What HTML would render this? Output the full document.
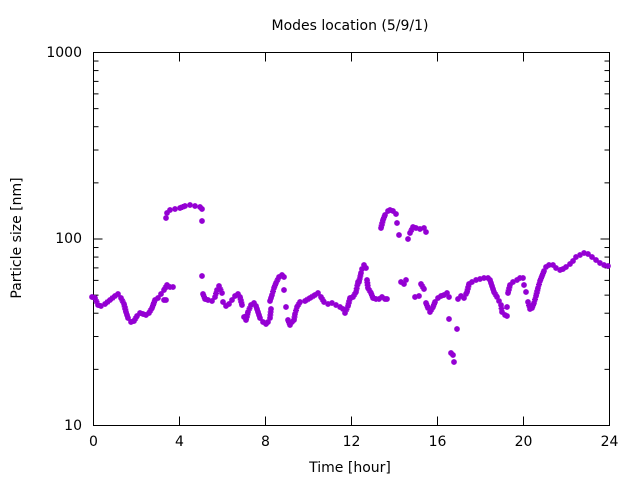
<!DOCTYPE html>
<html><head><style>body{margin:0;background:#fff}svg{font-family:"DejaVu Sans","Liberation Sans",sans-serif}</style></head>
<body>
<svg id="s" width="640" height="480" xmlns="http://www.w3.org/2000/svg">
<rect width="640" height="480" fill="#fff"/>
<text x="350" y="30" font-size="14" text-anchor="middle">Modes location (5/9/1)</text>
<text x="350" y="472" font-size="14" text-anchor="middle">Time [hour]</text>
<text transform="translate(21,238) rotate(-90)" font-size="14" text-anchor="middle">Particle size [nm]</text>
<g id="ax" stroke="#000" stroke-width="1" fill="none"><rect x="93.5" y="52.5" width="516" height="373"/></g>
<g id="lab" font-size="14"></g>
<g id="pts" stroke="#9400D3" stroke-width="1.6"></g>
</svg>
<script>
var ns="http://www.w3.org/2000/svg";
function el(p,t,a,txt){var e=document.createElementNS(ns,t);for(var k in a)e.setAttribute(k,a[k]);if(txt)e.textContent=txt;document.getElementById(p).appendChild(e);}
var x0=93.5,x1=609.5,yb=425.5,dec=186.5;
for(var h=0;h<=24;h+=4){var x=x0+(x1-x0)*h/24;
 el("ax","line",{x1:x,y1:yb,x2:x,y2:yb-9});el("ax","line",{x1:x,y1:52.5,x2:x,y2:61.5});
 el("lab","text",{x:x,y:446,"text-anchor":"middle"},String(h));}
for(var d=0;d<3;d++){for(var m=1;m<10;m++){var y=yb-dec*(d+Math.log10(m));var L=m==1?9:5;
 el("ax","line",{x1:x0,y1:y,x2:x0+L,y2:y});el("ax","line",{x1:x1,y1:y,x2:x1-L,y2:y});}}
el("ax","line",{x1:x0,y1:52.5,x2:x0+9,y2:52.5});el("ax","line",{x1:x1,y1:52.5,x2:x1-9,y2:52.5});
[["10",425],["100",238],["1000",52]].forEach(function(a){el("lab","text",{x:82,y:a[1]+5,"text-anchor":"end"},a[0]);});
var segs=[
[[92,297],[95,298],[98,305],[101,306],[105,304],[110,300],[115,296],[118,294],[121,298],[124,304],[126,312],[128,318],[131,322],[134,321],[137,316],[140,313],[143,314],[146,315],[149,313],[152,308],[155,300],[158,298],[161,294],[164,290],[167,285],[170,287],[173,287]],
[[164,300],[166,300]],
[[166,218],[167,213],[170,210],[175,209],[180,208],[185,206],[190,205],[195,206],[200,207],[202,209]],
[[202,221]],[[202,276]],
[[203,294],[205,299],[208,300],[212,301],[215,297],[217,290],[219,286],[222,293]],
[[223,302],[226,306],[229,304],[232,300],[235,296],[238,294],[240,297],[242,305]],
[[244,317],[246,320],[248,312],[251,305],[254,303],[256,306],[258,312],[260,318],[263,322],[266,324],[268,322],[270,318],[271,309]],
[[270,301],[272,295],[274,288],[276,283],[279,277],[282,275],[284,277]],[[284,290]],[[286,307]],
[[288,320],[290,325],[292,322],[294,320],[295,314],[297,307],[300,302],[305,301],[310,298],[315,295],[318,293],[321,297],[324,302],[328,304],[332,303],[336,305],[340,307],[343,309],[345,313],[348,306],[350,298],[353,297],[356,292],[358,282],[359,282],[361,273],[362,269],[364,265],[366,268]],
[[367,280],[368,288],[371,293],[373,298],[376,299],[379,299],[382,297],[385,299],[387,299]],
[[381,228],[383,220],[385,215],[388,211],[390,210],[393,211],[396,214]],[[397,223]],[[399,235]],[[408,239]],
[[410,233],[413,227],[416,228],[420,229],[424,228],[426,232]],
[[401,282],[404,284],[406,280]],
[[415,297],[419,296]],[[421,284],[424,289]],
[[426,303],[428,308],[430,312],[433,307],[435,302],[438,298],[441,296],[444,295],[447,293],[449,297]],
[[449,319]],[[451,353],[453,355]],[[454,362]],[[457,329]],
[[458,299],[461,296],[464,298],[466,294],[467,292],[469,284],[472,282],[476,280],[480,279],[484,278],[488,278],[490,280],[492,286],[494,292],[497,297],[499,301],[501,305],[502,312],[505,315],[507,316]],
[[507,307]],[[508,293],[510,285],[513,282],[517,280],[520,278],[523,278]],[[524,285]],[[526,292]],
[[528,302],[530,309],[532,308],[534,303],[536,296],[538,288],[540,281],[542,276],[544,271],[546,267],[549,265],[553,265],[556,268],[560,270],[563,269],[566,267],[570,264],[573,261],[576,257],[580,255],[584,253],[588,254],[592,257],[596,260],[600,263],[604,265],[608,266]]
];
function mark(x,y){var r=3;var d="M"+(x-r)+" "+y+"h"+2*r+"M"+x+" "+(y-r)+"v"+2*r+"M"+(x-2.1)+" "+(y-2.1)+"l4.2 4.2M"+(x-2.1)+" "+(y+2.1)+"l4.2 -4.2";el("pts","path",{d:d});}
segs.forEach(function(s){for(var i=0;i<s.length;i++){mark(s[i][0],s[i][1]);if(i+1<s.length){var a=s[i],b=s[i+1];var dd=Math.hypot(b[0]-a[0],b[1]-a[1]);var n=Math.floor(dd/2.6);for(var k=1;k<n;k++){mark(a[0]+(b[0]-a[0])*k/n,a[1]+(b[1]-a[1])*k/n);}}}});
</script>
</body></html>
